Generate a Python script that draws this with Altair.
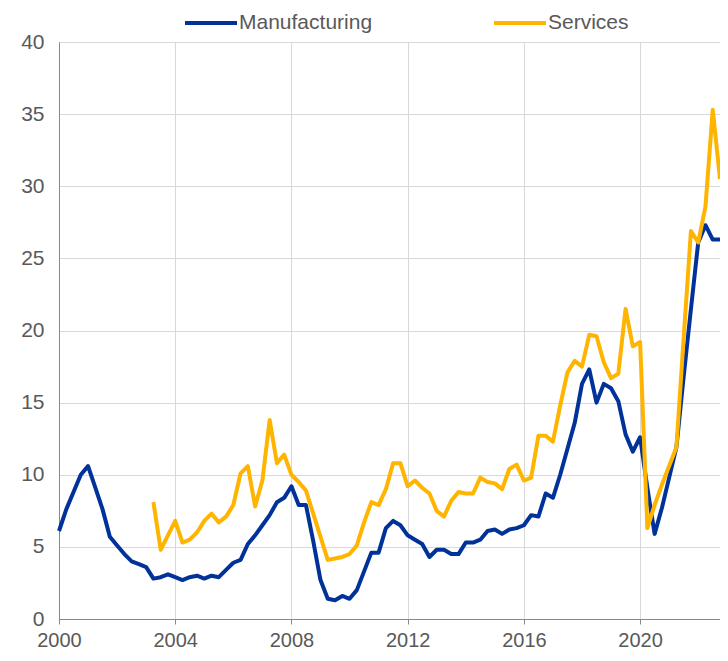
import altair as alt
import pandas as pd

# Quarterly series, 2000Q1 .. 2022Q4
start_year = 2000
manufacturing = [
    6.1, 7.6, 8.8, 10.0,
    10.6, 9.1, 7.6, 5.7,
    5.1, 4.5, 4.0, 3.8,
    3.6, 2.8, 2.9, 3.1,
    2.9, 2.7, 2.9, 3.0,
    2.8, 3.0, 2.9, 3.4,
    3.9, 4.1, 5.2, 5.8,
    6.5, 7.2, 8.1, 8.4,
    9.2, 7.9, 7.9, 5.4,
    2.7, 1.4, 1.3, 1.6,
    1.4, 2.0, 3.3, 4.6,
    4.6, 6.3, 6.8, 6.5,
    5.8, 5.5, 5.2, 4.3,
    4.8, 4.8, 4.5, 4.5,
    5.3, 5.3, 5.5, 6.1,
    6.2, 5.9, 6.2, 6.3,
    6.5, 7.2, 7.1, 8.7,
    8.4, 10.0, 11.8, 13.6,
    16.3, 17.3, 15.0, 16.3,
    16.0, 15.1, 12.8, 11.6,
    12.6, 9.1, 5.9, 7.7,
    9.8, 11.9, 16.8, 21.5,
    26.1, 27.3, 26.3, 26.3,
]

# Services starts in 2003Q2
services_start_index = 13
services = [
    8.1, 4.8, 5.8,
    6.8, 5.3, 5.5, 6.0,
    6.8, 7.3, 6.7, 7.1,
    7.9, 10.1, 10.6, 7.8,
    9.6, 13.8, 10.8, 11.4,
    10.0, 9.5, 8.9, 7.3,
    5.7, 4.1, 4.2, 4.3,
    4.5, 5.1, 6.7, 8.1,
    7.9, 9.0, 10.8, 10.8,
    9.2, 9.6, 9.1, 8.7,
    7.5, 7.1, 8.2, 8.8,
    8.7, 8.7, 9.8, 9.5,
    9.4, 9.0, 10.4, 10.7,
    9.6, 9.8, 12.7, 12.7,
    12.3, 14.8, 17.1, 17.9,
    17.5, 19.7, 19.6, 17.8,
    16.7, 17.0, 21.5, 18.9,
    19.2, 6.3, 7.9, 9.3,
    10.6, 11.9, 19.5, 26.9,
    26.1, 28.6, 35.3, 30.5,
]

series_names = ["Manufacturing", "Services"]
series_colors = ["#003299", "#FFB400"]
x_tick_values = [2000, 2004, 2008, 2012, 2016, 2020]
y_tick_values = [0, 5, 10, 15, 20, 25, 30, 35, 40]

rows = []
for i, v in enumerate(manufacturing):
    rows.append({"t": start_year + i / 4, "value": v, "series": series_names[0]})
for i, v in enumerate(services):
    rows.append({"t": start_year + (services_start_index + i) / 4, "value": v, "series": series_names[1]})
df = pd.DataFrame(rows)

FONT = "Liberation Sans"
TXT = "#595959"
GRID = "#d9d9d9"
AXIS = "#898989"

chart = (
    alt.Chart(df)
    .mark_line(strokeWidth=4, strokeJoin="round")
    .encode(
        x=alt.X(
            "t:Q",
            scale=alt.Scale(domain=[2000, 2022.75], nice=False, zero=False),
            axis=alt.Axis(
                values=x_tick_values,
                format="d",
                title=None,
                grid=True,
                gridColor=GRID,
                domainColor=AXIS,
                tickColor=AXIS,
                tickSize=5,
                labelPadding=6.5,
                labelFontSize=20,
                labelFont=FONT,
                labelColor=TXT,
                labelFlush=False,
                labelOverlap=False,
            ),
        ),
        y=alt.Y(
            "value:Q",
            scale=alt.Scale(domain=[0, 40], nice=False),
            axis=alt.Axis(
                values=y_tick_values,
                title=None,
                grid=True,
                gridColor=GRID,
                domainColor=AXIS,
                ticks=False,
                labelPadding=15,
                labelFontSize=21,
                labelFont=FONT,
                labelColor=TXT,
            ),
        ),
        color=alt.Color(
            "series:N",
            scale=alt.Scale(domain=series_names, range=series_colors),
            legend=alt.Legend(
                title=None,
                orient="none",
                legendX=124,
                legendY=-47,
                direction="horizontal",
                symbolType="stroke",
                symbolSize=2704,
                symbolStrokeWidth=4,
                labelFontSize=21,
                labelFont=FONT,
                labelColor=TXT,
                labelOffset=0,
                columnPadding=113,
                padding=0,
            ),
        ),
    )
    .properties(
        width=661,
        height=577,
        autosize=alt.AutoSizeParams(type="none"),
        padding={"left": 51, "top": 34, "right": 0, "bottom": 34},
    )
    .configure_view(stroke=GRID)
    .configure(background="white")
)

chart.save("out.html", embed_options={"renderer": "svg", "actions": False})
